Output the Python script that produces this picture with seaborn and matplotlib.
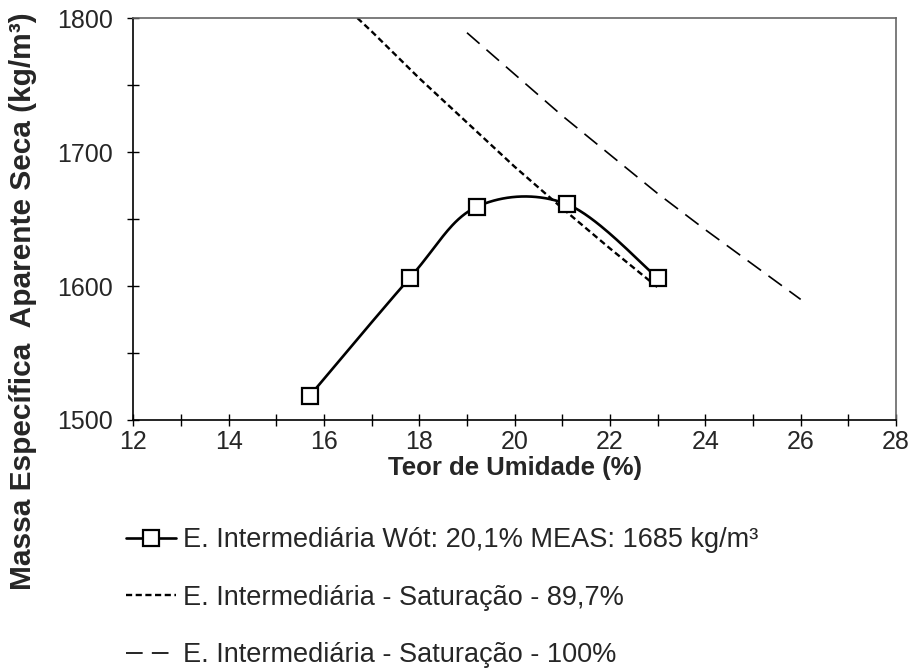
import numpy as np
import pandas as pd
import matplotlib
matplotlib.use("Agg")
import matplotlib.pyplot as plt
from matplotlib.lines import Line2D
from matplotlib.ticker import MultipleLocator
import seaborn as sns

# Compaction test (moisture content %, dry density kg/m3)
umidade = [15.7, 17.8, 19.2, 21.1, 23.0]
massa = [1518, 1606, 1659, 1661, 1606]

# Saturation curve, S = 89.7 %
umid_s897 = [16.7, 17.0, 18.0, 19.0, 20.0, 21.0, 22.0, 23.0]
massa_s897 = [1800, 1790, 1755, 1722, 1689, 1658, 1628, 1599]

# Saturation curve, S = 100 %
umid_s100 = [19.0, 20.0, 21.0, 22.0, 23.0, 24.0, 25.0, 26.0]
massa_s100 = [1789, 1758, 1727, 1698, 1669, 1642, 1616, 1590]

labels = [
    "E. Intermediária Wót: 20,1% MEAS: 1685 kg/m³",
    "E. Intermediária - Saturação - 89,7%",
    "E. Intermediária - Saturação - 100%",
]


def catmull_rom(x, y, n=40):
    """Smooth curve through the points (uniform Catmull-Rom)."""
    p = np.column_stack([x, y]).astype(float)
    p = np.vstack([p[0], p, p[-1]])
    out = []
    t = np.linspace(0, 1, n)[:, None]
    for i in range(1, len(p) - 2):
        p0, p1, p2, p3 = p[i - 1], p[i], p[i + 1], p[i + 2]
        m1 = (p2 - p0) / 2
        m2 = (p3 - p1) / 2
        h00 = 2 * t**3 - 3 * t**2 + 1
        h10 = t**3 - 2 * t**2 + t
        h01 = -2 * t**3 + 3 * t**2
        h11 = t**3 - t**2
        out.append(h00 * p1 + h10 * m1 + h01 * p2 + h11 * m2)
    c = np.vstack(out)
    return c[:, 0], c[:, 1]


sns.set_theme(style="white")
plt.rcParams["font.family"] = ["Liberation Sans", "DejaVu Sans"]

fig = plt.figure(figsize=(9.14, 6.7), dpi=100)
ax = fig.add_axes([133.3 / 914, 1 - 420 / 670, (896 - 133.3) / 914, (420 - 18) / 670])

sx, sy = catmull_rom(umidade, massa)
smooth = pd.DataFrame({"w": sx, "rho": sy})
pts = pd.DataFrame({"w": umidade, "rho": massa})
s897 = pd.DataFrame({"w": umid_s897, "rho": massa_s897})
s100 = pd.DataFrame({"w": umid_s100, "rho": massa_s100})

sns.lineplot(data=s897, x="w", y="rho", ax=ax, color="black", lw=1.7,
             sort=False, estimator=None)
ax.lines[-1].set_dashes((2.6, 1.5))
sns.lineplot(data=s100, x="w", y="rho", ax=ax, color="black", lw=1.2,
             sort=False, estimator=None)
ax.lines[-1].set_dashes((10, 5.5))
sns.lineplot(data=smooth, x="w", y="rho", ax=ax, color="black", lw=1.9,
             sort=False, estimator=None)
ax.plot(pts["w"], pts["rho"], ls="none", marker="s", ms=11, mfc="white",
        mec="black", mew=1.6, zorder=5)

ax.set_xlim(12, 28)
ax.set_ylim(1500, 1800)
ax.xaxis.set_major_locator(MultipleLocator(2))
ax.xaxis.set_minor_locator(MultipleLocator(1))
ax.yaxis.set_major_locator(MultipleLocator(100))
ax.yaxis.set_minor_locator(MultipleLocator(50))
ax.tick_params(axis="both", which="both", direction="inout", length=9,
               width=1.0, color="black", labelsize=18)
ax.tick_params(axis="x", which="major", pad=3)
ax.tick_params(axis="y", which="major", pad=10)
ax.tick_params(top=False, right=False, left=True, bottom=True, which="both")

for side in ["left", "bottom"]:
    ax.spines[side].set_color("black")
    ax.spines[side].set_linewidth(1.2)
for side in ["top", "right"]:
    ax.spines[side].set_color("#666666")
    ax.spines[side].set_linewidth(1.2)
ax.grid(False)

ax.set_xlabel("Teor de Umidade (%)", fontsize=18.5, fontweight="bold", labelpad=1)
ax.set_ylabel("")
fig.text(23 / 914, 1 - 301 / 670, "Massa Específica  Aparente Seca (kg/m³)",
         rotation=90, ha="center", va="center", fontsize=21.5, fontweight="bold")

handles = [
    Line2D([], [], color="black", lw=1.9, marker="s", ms=11, mfc="white",
           mec="black", mew=1.6),
    Line2D([], [], color="black", lw=1.7, dashes=(2.6, 1.5)),
    Line2D([], [], color="black", lw=1.2, dashes=(10, 5.5)),
]
fig.legend(handles, labels, loc="upper left",
           bbox_to_anchor=(126 / 914, 1 - 527 / 670), frameon=False,
           fontsize=19.5, handlelength=1.85, handletextpad=0.26,
           labelspacing=1.17, borderpad=0, borderaxespad=0)

fig.savefig("out.png", dpi=100)
